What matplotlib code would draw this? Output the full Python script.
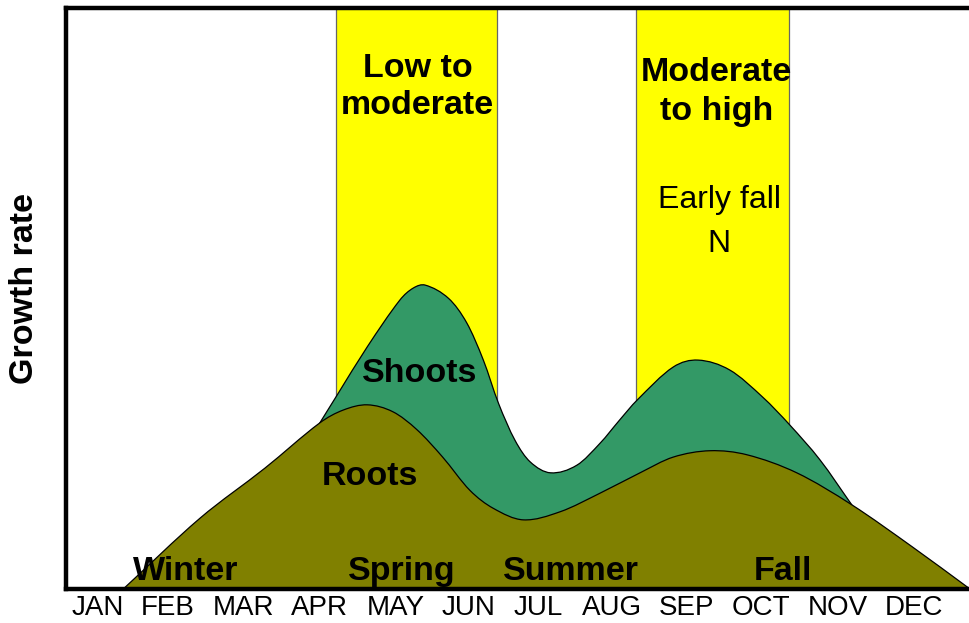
import matplotlib
matplotlib.use("Agg")
import matplotlib.pyplot as plt
from matplotlib.path import Path
from matplotlib.patches import PathPatch
import numpy as np

plt.rcParams['font.family'] = ['Liberation Sans', 'DejaVu Sans']

# ---- data (months on x, relative growth rate on y) ----
months = ["JAN", "FEB", "MAR", "APR", "MAY", "JUN",
          "JUL", "AUG", "SEP", "OCT", "NOV", "DEC"]
month_pos = [0.42, 1.35, 2.35, 3.37, 4.38, 5.34, 6.27, 7.25, 8.24, 9.23, 10.25, 11.26]

root_month = [0.76, 1.78, 2.64, 3.37, 3.68, 4.00, 4.34, 4.66, 5.00,
              5.36, 5.67, 6.07, 6.56, 7.09, 7.62, 8.06, 8.55, 9.04, 9.70, 10.43,
              11.24, 12.0]
root_rate = [0, 12.2, 20.8, 28.6, 30.8, 31.7, 30.5, 27.4, 22.7,
             17.0, 13.9, 11.9, 13.3, 16.5, 20.0, 22.7, 23.8, 23.1, 20.0, 14.5,
             7.2, 0]

shoot_month = [3.37, 3.60, 4.00, 4.43, 4.61, 4.77, 5.08, 5.32, 5.54, 5.74,
               5.96, 6.16, 6.43, 6.78, 7.09, 7.35, 7.58, 8.06, 8.39, 8.81, 9.25,
               9.61, 10.01, 10.43]
shoot_rate = [28.6, 33.4, 41.7, 49.7, 51.8, 52.3, 50.0, 45.8, 39.4, 32.0,
              25.6, 21.9, 20.0, 21.3, 25.1, 29.1, 32.5, 38.2, 39.4, 37.7, 33.0,
              28.2, 22.2, 14.5]

bands = [(3.58, 5.72), (7.57, 9.60)]
band_titles = ["Low to\nmoderate", "Moderate\nto high"]
seasons = ["Winter", "Spring", "Summer", "Fall"]
season_pos = [1.59, 4.46, 6.70, 9.52]

GREEN = "#339966"
OLIVE = "#808000"
YELLOW = "#FFFF00"


def smooth_path(xs, ys):
    """Smooth (cubic Hermite) outline through the read points, closed to the baseline."""
    x = np.asarray(xs, float)
    y = np.asarray(ys, float)
    n = len(x)
    m = np.empty(n)
    m[0] = (y[1] - y[0]) / (x[1] - x[0])
    m[-1] = (y[-1] - y[-2]) / (x[-1] - x[-2])
    for i in range(1, n - 1):
        m[i] = (y[i + 1] - y[i - 1]) / (x[i + 1] - x[i - 1])
    verts = [(x[0], y[0])]
    codes = [Path.MOVETO]
    for i in range(n - 1):
        h = x[i + 1] - x[i]
        verts += [(x[i] + h / 3, y[i] + m[i] * h / 3),
                  (x[i + 1] - h / 3, y[i + 1] - m[i + 1] * h / 3),
                  (x[i + 1], y[i + 1])]
        codes += [Path.CURVE4] * 3
    verts += [(x[-1], 0), (x[0], 0), (x[0], y[0])]
    codes += [Path.LINETO, Path.LINETO, Path.CLOSEPOLY]
    return Path(verts, codes)


fig = plt.figure(figsize=(9.70, 6.23), dpi=100)
ax = fig.add_axes([66 / 970, 34 / 623, 1 - 66 / 970, (589 - 8) / 623])
ax.set_xlim(0, 12)
ax.set_ylim(0, 100)

for (a, b) in bands:
    ax.axvspan(a, b, facecolor=YELLOW, edgecolor="#666666", lw=0.9, zorder=1)

ax.add_patch(PathPatch(smooth_path(shoot_month, shoot_rate),
                       facecolor=GREEN, edgecolor="black", lw=0.9, zorder=2))
ax.add_patch(PathPatch(smooth_path(root_month, root_rate),
                       facecolor=OLIVE, edgecolor="black", lw=0.9, zorder=3))

BOLD = 24.5
# band titles (va baseline -> last line baseline)
ax.text(4.67, 81.8, band_titles[0], ha="center", va="baseline", fontsize=BOLD,
        fontweight="bold", linespacing=1.25, zorder=5)
ax.text(8.63, 80.7, band_titles[1], ha="center", va="baseline", fontsize=BOLD,
        fontweight="bold", linespacing=1.33, zorder=5)
ax.text(8.67, 58.0, "Early fall\nN", ha="center", va="baseline", fontsize=23,
        linespacing=1.6, zorder=5)

ax.text(4.70, 35.6, "Shoots", ha="center", va="baseline", fontsize=BOLD,
        fontweight="bold", zorder=5)
ax.text(4.03, 17.9, "Roots", ha="center", va="baseline", fontsize=BOLD,
        fontweight="bold", zorder=5)

for s, p in zip(seasons, season_pos):
    ax.text(p, 1.55, s, ha="center", va="baseline", fontsize=BOLD,
            fontweight="bold", zorder=5)

ax.set_xticks(month_pos)
ax.set_xticklabels(months, fontsize=20)
ax.tick_params(axis="x", length=0, pad=4)
ax.set_yticks([])

for side in ["left", "bottom", "top"]:
    ax.spines[side].set_linewidth(3.2)
    ax.spines[side].set_color("black")
    ax.spines[side].set_zorder(6)
ax.spines["right"].set_visible(False)

fig.text(25 / 970, 1 - 288 / 623, "Growth rate", rotation=90, ha="center",
         va="center", fontsize=BOLD, fontweight="bold")

fig.savefig("out.png", dpi=100)
